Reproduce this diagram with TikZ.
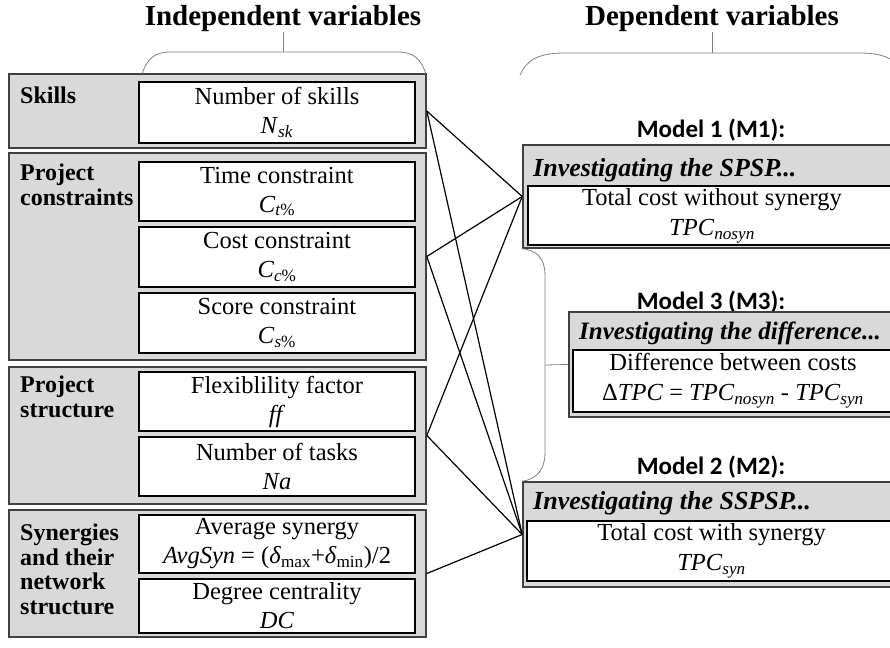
\documentclass[tikz,border=0pt]{standalone}
\usepackage{fontspec}
\setmainfont{Liberation Serif}
\newfontfamily\headfont{Carlito}
\usetikzlibrary{positioning}

\tikzset{
  vartitle/.style={inner sep=0pt, font=\bfseries\fontsize{29}{32}\selectfont},
  grp/.style={draw=black!75, line width=1.6pt, fill=black!15, inner sep=0pt, minimum width=417pt},
  grplabel/.style={anchor=north west, align=left, inner sep=0pt, font=\bfseries\fontsize{24}{24.5}\selectfont},
  varbox/.style={draw=black, line width=1.3pt, fill=white, align=center, inner sep=0pt,
    minimum width=276pt, font=\fontsize{24.5}{29}\selectfont},
  modelbox/.style={draw=black!75, line width=1.6pt, fill=black!15, inner sep=0pt},
  modelin/.style={draw=black, line width=1.3pt, fill=white, align=center, inner sep=0pt,
    font=\fontsize{24.5}{30}\selectfont},
  modelhead/.style={anchor=west, inner sep=0pt, font=\bfseries\itshape\fontsize{26}{28}\selectfont},
  modeltitle/.style={inner sep=0pt, font=\headfont\bfseries\fontsize{25}{27}\selectfont},
  brace/.style={draw=black!50, line width=0.8pt},
  link/.style={draw=black, line width=1.2pt}
}

\begin{document}
\begin{tikzpicture}[x=1pt, y=-1pt]
\clip (0,0) rectangle (890,647);

% titles
\node[vartitle] (indep) at (283,19) {Independent variables};
\node[vartitle] (dep) at (712,19) {Dependent variables};

% independent variables, grouped
\node[grp, minimum height=74pt] (skills) at (217.5,111) {};
\node[grp, minimum height=207pt] (cons) at (217.5,256.5) {};
\node[grp, minimum height=137pt] (struct) at (217.5,435.5) {};
\node[grp, minimum height=127pt] (syn) at (217.5,573.5) {};

\node[grplabel] (skillslbl) at (20,87) {Skills};
\node[grplabel] (conslbl) at (20,164) {Project\\constraints};
\node[grplabel] (structlbl) at (20,376) {Project\\structure};
\node[grplabel] (synlbl) at (20,524) {Synergies\\and their\\network\\structure};

\node[varbox, minimum height=61pt] (nsk) at (277,112.5) {Number of skills\\\textit{N}\textsubscript{\textit{sk}}};
\node[varbox, minimum height=59pt] (time) at (277,191.5) {Time constraint\\\textit{C}\textsubscript{\textit{t}\%}};
\node[varbox, minimum height=60pt] (cost) at (277,257) {Cost constraint\\\textit{C}\textsubscript{\textit{c}\%}};
\node[varbox, minimum height=60pt] (score) at (277,323) {Score constraint\\\textit{C}\textsubscript{\textit{s}\%}};
\node[varbox, minimum height=59pt] (flex) at (277,401.5) {Flexiblility factor\\\textit{ff}};
\node[varbox, minimum height=59pt] (tasks) at (277,466.5) {Number of tasks\\\textit{Na}};
\node[varbox, minimum height=58pt] (avg) at (277,544) {Average synergy\\\textit{AvgSyn} = (\textit{δ}\textsubscript{max}+\textit{δ}\textsubscript{min})/2};
\node[varbox, minimum height=54pt] (dc) at (277,606) {Degree centrality\\\textit{DC}};

% dependent variables, one box per model
\node[modeltitle] (m1title) at (711,130) {Model 1 (M1):};
\node[modelbox, minimum width=377pt, minimum height=103pt] (m1) at (711.5,196.5) {};
\node[modelhead] (m1head) at (533,170) {Investigating the SPSP...};
\node[modelin, minimum width=368pt, minimum height=59pt] (m1in) at (712,215.5) {Total cost without synergy\\\textit{TPC}\textsubscript{\textit{nosyn}}};

\node[modeltitle] (m3title) at (711,302) {Model 3 (M3):};
\node[modelbox, minimum width=328pt, minimum height=105pt] (m3) at (733,364.5) {};
\node[modelhead, font=\bfseries\itshape\fontsize{25}{28}\selectfont] (m3head) at (579,333) {Investigating the difference...};
\node[modelin, minimum width=320pt, minimum height=62pt] (m3in) at (733,381) {Difference between costs\\Δ\textit{TPC} = \textit{TPC}\textsubscript{\textit{nosyn}} - \textit{TPC}\textsubscript{\textit{syn}}};

\node[modeltitle] (m2title) at (711,467) {Model 2 (M2):};
\node[modelbox, minimum width=377pt, minimum height=105pt] (m2) at (711.5,534.5) {};
\node[modelhead] (m2head) at (533,503) {Investigating the SSPSP...};
\node[modelin, minimum width=369pt, minimum height=60pt] (m2in) at (711.5,551) {Total cost with synergy\\\textit{TPC}\textsubscript{\textit{syn}}};

% braces
\coordinate (indeptop) at (283,52);
\coordinate (deptop) at (712,53);
\draw[brace] (indep.south) -- (indeptop);
\draw[brace] (142,74) .. controls (147,58) and (156,52) .. (170,52) -- (398,52) .. controls (412,52) and (421,58) .. (426,74);
\draw[brace] (dep.south) -- (deptop);
\draw[brace] (520,75) .. controls (527,59) and (540,53) .. (565,53) -- (859,53) .. controls (884,53) and (897,59) .. (904,75);
\draw[brace] (m1.south west) .. controls (538,250) and (545,260) .. (545,275) -- (545,453) .. controls (545,468) and (538,479) .. (m2.north west);
\coordinate (m3tip) at (545,365);
\draw[brace] (m3tip) -- (m3.west);

% links
\foreach \g in {skills,cons,struct} {
  \draw[link] (\g.east) -- (m1.west);
  \draw[link] (\g.east) -- (m2.west);
}
\draw[link] (syn.east) -- (m2.west);
\end{tikzpicture}
\end{document}
